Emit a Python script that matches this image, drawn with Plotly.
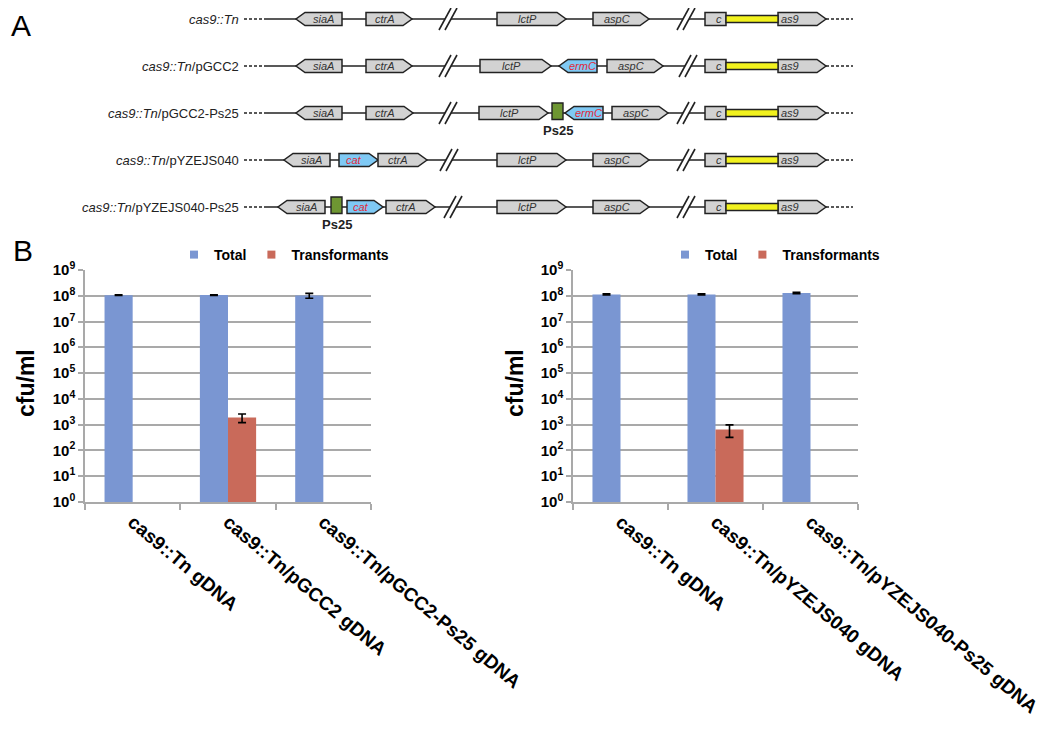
import plotly.graph_objects as go

# page is shown with an 8px body margin, so the figure is 8px smaller
OFF = 8
PW, PH = 1050, 741
W, H = PW - OFF, PH - OFF
FONT = "Arial, 'Liberation Sans', Helvetica, sans-serif"


def fx(p):  # page x pixel -> paper fraction
    return (p - OFF) / W


def fy(p):  # page y pixel -> paper fraction
    return 1 - (p - OFF) / H


# ---------------- Panel B data ----------------
cats_left = ["cas9::Tn gDNA", "cas9::Tn/pGCC2 gDNA", "cas9::Tn/pGCC2-Ps25 gDNA"]
total_left = [1.05e8, 1.07e8, 1.02e8]
total_left_err = [0.03e8, 0.03e8, 0.22e8]
trans_left = [None, 1.9e3, None]
trans_left_err = [0, 0.7e3, 0]

cats_right = ["cas9::Tn gDNA", "cas9::Tn/pYZEJS040 gDNA", "cas9::Tn/pYZEJS040-Ps25 gDNA"]
total_right = [1.13e8, 1.13e8, 1.28e8]
total_right_err = [0.06e8, 0.06e8, 0.08e8]
trans_right = [None, 6.5e2, None]
trans_right_err = [0, 3.3e2, 0]

y_exponents = list(range(0, 10))
series_names = ["Total", "Transformants"]

# ---------------- Panel A data (schematic positions) ----------------
row_prefix = "cas9::Tn"
row_suffix = ["", "/pGCC2", "/pGCC2-Ps25", "/pYZEJS040", "/pYZEJS040-Ps25"]
# (name, start, end, strand, kind)
row_genes = [
    [("siaA", 296, 342, "L", "gene"), ("ctrA", 366, 412, "R", "gene"),
     ("lctP", 497, 566, "R", "gene"), ("aspC", 593, 649, "R", "gene")],
    [("siaA", 296, 342, "L", "gene"), ("ctrA", 366, 412, "R", "gene"),
     ("lctP", 480, 551, "R", "gene"), ("ermC", 559, 597, "L", "marker"),
     ("aspC", 607, 663, "R", "gene")],
    [("siaA", 296, 342, "L", "gene"), ("ctrA", 366, 413, "R", "gene"),
     ("lctP", 479, 548, "R", "gene"), ("Ps25", 552, 563, "", "promoter"),
     ("ermC", 565, 603, "L", "marker"), ("aspC", 612, 668, "R", "gene")],
    [("siaA", 284, 330, "L", "gene"), ("cat", 339, 378, "R", "marker"),
     ("ctrA", 378, 427, "R", "gene"), ("lctP", 497, 566, "R", "gene"),
     ("aspC", 593, 649, "R", "gene")],
    [("siaA", 278, 325, "L", "gene"), ("Ps25", 331, 342, "", "promoter"),
     ("cat", 347, 383, "R", "marker"), ("ctrA", 386, 435, "R", "gene"),
     ("lctP", 497, 566, "R", "gene"), ("aspC", 593, 649, "R", "gene")],
]
row_breaks = [[448, 686], [448, 688], [448, 686], [449, 686], [453, 686]]
cas9_c_box = (705, 726)
cas9_bar = (726, 778)
cas9_as9 = (778, 826)
line_span = (267, 826)
dash_left = (244, 267)
dash_right = (826, 853)
label_x = 241

BLUE = "#7a96d2"
RED = "#c96a5a"
GRID = "#a9a9a9"
GENE_FILL = "#d2d2d2"
MARK_FILL = "#7fc9f4"
PROM_FILL = "#6e9632"
EDGE = "#222222"

fig = go.Figure()


# ---------------- bar traces ----------------
def add_bars(cats, tot, tot_err, tr, tr_err, xa, ya, leg):
    fig.add_trace(go.Bar(x=cats, y=tot, name=series_names[0], marker_color=BLUE,
                         marker_line_width=0,
                         error_y=dict(type="data", array=tot_err, color="black",
                                      thickness=1.6, width=4),
                         xaxis=xa, yaxis=ya, showlegend=False))
    fig.add_trace(go.Bar(x=cats, y=tr, name=series_names[1], marker_color=RED,
                         marker_line_width=0,
                         error_y=dict(type="data", array=tr_err, color="black",
                                      thickness=1.6, width=4),
                         xaxis=xa, yaxis=ya, showlegend=False))
    for nm, col in zip(series_names, [BLUE, RED]):
        fig.add_trace(go.Scatter(x=[None], y=[None], mode="markers", name=nm,
                                 marker=dict(symbol="square", size=8, color=col),
                                 xaxis=xa, yaxis=ya, legend=leg, showlegend=True))


add_bars(cats_left, total_left, total_left_err, trans_left, trans_left_err, "x", "y", "legend")
add_bars(cats_right, total_right, total_right_err, trans_right, trans_right_err, "x2", "y2", "legend2")

# ---------------- axes ----------------
ydom = [fy(502), fy(270)]


def yaxis_cfg(anchor):
    return dict(type="log", range=[0, 9], domain=ydom, anchor=anchor,
                tickvals=[10 ** e for e in y_exponents],
                ticktext=[f"10<sup>{e}</sup>" for e in y_exponents],
                showgrid=True, gridcolor=GRID, gridwidth=1.5,
                showline=True, linecolor=GRID, linewidth=1.5,
                ticks="outside", ticklen=5, tickcolor=GRID, tickwidth=1.5,
                tickfont=dict(size=15, color="black", family=FONT, weight="bold"),
                zeroline=False, fixedrange=True, automargin=False)


def xaxis_cfg(dom, anchor):
    return dict(type="category", domain=dom, anchor=anchor,
                showline=True, linecolor=GRID, linewidth=1.5,
                ticks="outside", tickson="boundaries", ticklen=6,
                tickcolor=GRID, tickwidth=1.5, showgrid=False,
                tickangle=40,
                tickfont=dict(size=19, color="black", family=FONT, weight="bold"),
                fixedrange=True, automargin=False)


fig.update_layout(
    xaxis=xaxis_cfg([fx(85), fx(371)], "y"),
    yaxis=yaxis_cfg("x"),
    xaxis2=xaxis_cfg([fx(573), fx(858)], "y2"),
    yaxis2=yaxis_cfg("x2"),
    xaxis3=dict(domain=[0, 1], range=[OFF, PW], visible=False, anchor="y3",
                fixedrange=True, automargin=False),
    yaxis3=dict(domain=[fy(235), 1], range=[(235 - 19) / 47, (OFF - 19) / 47],
                visible=False, anchor="x3", fixedrange=True, automargin=False),
)

# ---------------- Panel A drawing ----------------
shapes = []
ann = []
PX = 1 / 47.0  # one pixel in row units
h = 6.5 * PX
tip = 9


def seg(x0, x1, y, dash="solid", w=1.6):
    shapes.append(dict(type="line", xref="x3", yref="y3", x0=x0, x1=x1, y0=y, y1=y,
                       line=dict(color=EDGE, width=w, dash=dash), layer="below"))


for r in range(len(row_suffix)):
    y = r
    xs = [line_span[0]]
    for b in row_breaks[r]:
        xs += [b - 3, b + 3]
    xs.append(line_span[1])
    for i in range(0, len(xs), 2):
        seg(xs[i], xs[i + 1], y)
    seg(dash_left[0], dash_left[1], y, dash="3px,2px", w=1.6)
    seg(dash_right[0], dash_right[1], y, dash="3px,2px", w=1.6)
    for b in row_breaks[r]:
        for off in (-6, 0):
            shapes.append(dict(type="line", xref="x3", yref="y3",
                               x0=b + off - 3, x1=b + off + 9, y0=y + 11 * PX, y1=y - 11 * PX,
                               line=dict(color=EDGE, width=1.6)))
    ann.append(dict(xref="x3", yref="y3", x=label_x, y=y, xanchor="right", yanchor="middle",
                    text=f"<i>{row_prefix}</i>{row_suffix[r]}", showarrow=False,
                    font=dict(size=13, color="#222", family=FONT)))
    for name, x0, x1, strand, kind in row_genes[r] + [("c", cas9_c_box[0], cas9_c_box[1], "", "cbox"),
                                                       ("as9", cas9_as9[0], cas9_as9[1], "R", "as9")]:
        if kind == "promoter":
            path = f"M{x0},{y - 10 * PX} L{x1},{y - 10 * PX} L{x1},{y + h} L{x0},{y + h} Z"
            shapes.append(dict(type="path", xref="x3", yref="y3", path=path,
                               fillcolor=PROM_FILL, line=dict(color=EDGE, width=1.4)))
            ann.append(dict(xref="x3", yref="y3", x=(x0 + x1) / 2, y=y + 17 * PX,
                            text="<b>Ps25</b>", showarrow=False, yanchor="middle",
                            font=dict(size=13, color="#222", family=FONT)))
            continue
        fill = MARK_FILL if kind == "marker" else GENE_FILL
        if strand == "R":
            path = (f"M{x0},{y - h} L{x1 - tip},{y - h} L{x1},{y} "
                    f"L{x1 - tip},{y + h} L{x0},{y + h} Z")
            cx = (x0 + x1 - tip) / 2
        elif strand == "L":
            path = (f"M{x1},{y - h} L{x0 + tip},{y - h} L{x0},{y} "
                    f"L{x0 + tip},{y + h} L{x1},{y + h} Z")
            cx = (x0 + tip + x1) / 2
        else:
            path = f"M{x0},{y - h} L{x1},{y - h} L{x1},{y + h} L{x0},{y + h} Z"
            cx = (x0 + x1) / 2
        shapes.append(dict(type="path", xref="x3", yref="y3", path=path,
                           fillcolor=fill, line=dict(color=EDGE, width=1.5)))
        col = "#e02a3a" if kind == "marker" else "#333"
        if kind == "cbox":
            ann.append(dict(xref="x3", yref="y3", x=x1 - 2, y=y, xanchor="right", yanchor="middle",
                            text=f"<i>{name}</i>", showarrow=False,
                            font=dict(size=11, color=col, family=FONT)))
        elif kind == "as9":
            ann.append(dict(xref="x3", yref="y3", x=x0 + 1, y=y, xanchor="left", yanchor="middle",
                            text=f"<i>{name}</i>", showarrow=False,
                            font=dict(size=11, color=col, family=FONT)))
        else:
            ann.append(dict(xref="x3", yref="y3", x=cx, y=y, xanchor="center", yanchor="middle",
                            text=f"<i>{name}</i>", showarrow=False,
                            font=dict(size=11, color=col, family=FONT)))
    shapes.append(dict(type="rect", xref="x3", yref="y3", x0=cas9_bar[0], x1=cas9_bar[1],
                       y0=y - 3.5 * PX, y1=y + 3.5 * PX, fillcolor="#f2f21e",
                       line=dict(color=EDGE, width=1.4)))

ann += [
    dict(xref="paper", yref="paper", x=fx(10), y=1, text="A", showarrow=False,
         xanchor="left", yanchor="top", borderpad=0,
         font=dict(size=30, color="black", family=FONT)),
    dict(xref="paper", yref="paper", x=fx(11), y=fy(250), text="B", showarrow=False,
         xanchor="left", yanchor="middle", font=dict(size=30, color="black", family=FONT)),
    dict(xref="paper", yref="paper", x=fx(26), y=fy(383), text="cfu/ml", showarrow=False,
         textangle=-90, xanchor="center", yanchor="middle",
         font=dict(size=23, color="black", family=FONT, weight="bold")),
    dict(xref="paper", yref="paper", x=fx(515), y=fy(383), text="cfu/ml", showarrow=False,
         textangle=-90, xanchor="center", yanchor="middle",
         font=dict(size=23, color="black", family=FONT, weight="bold")),
]

legend_common = dict(orientation="h", yanchor="middle", xanchor="center",
                     font=dict(size=14, color="black", family=FONT, weight="bold"),
                     bgcolor="rgba(0,0,0,0)", itemwidth=30, tracegroupgap=0)

fig.update_layout(
    width=W, height=H,
    margin=dict(l=0, r=0, t=0, b=0, autoexpand=False),
    paper_bgcolor="white", plot_bgcolor="white",
    barmode="group", bargap=0.41, bargroupgap=0,
    font=dict(family=FONT, color="black"),
    shapes=shapes, annotations=ann,
    legend=dict(x=fx(284), y=fy(255), **legend_common),
    legend2=dict(x=fx(775), y=fy(255), **legend_common),
)

fig.write_html("out.html")
